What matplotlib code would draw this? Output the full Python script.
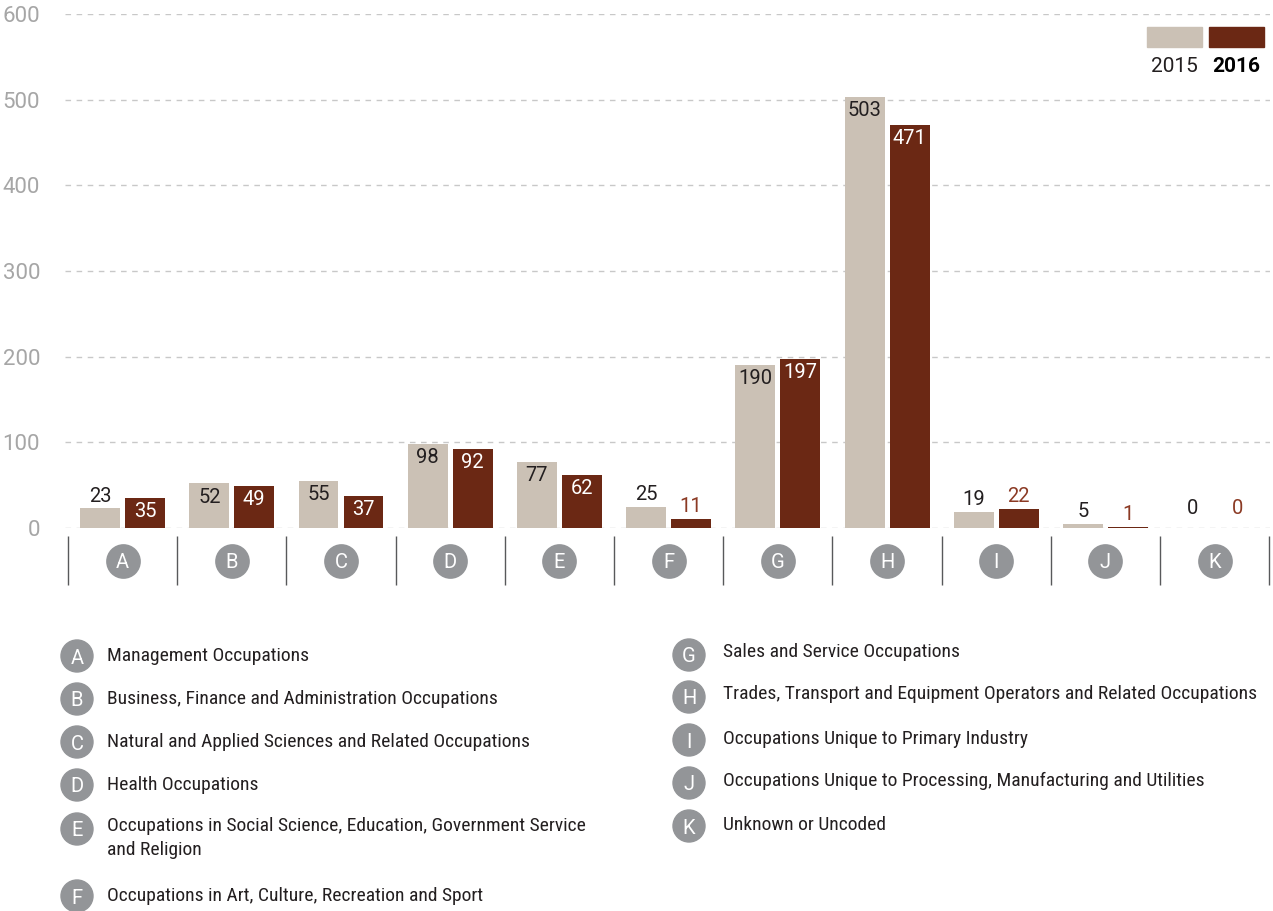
import matplotlib
matplotlib.use('Agg')
import matplotlib.pyplot as plt
from matplotlib.patches import Circle, Rectangle
from matplotlib import font_manager

# data
codes = ['A', 'B', 'C', 'D', 'E', 'F', 'G', 'H', 'I', 'J', 'K']
names = ['Management Occupations',
         'Business, Finance and Administration Occupations',
         'Natural and Applied Sciences and Related Occupations',
         'Health Occupations',
         'Occupations in Social Science, Education, Government Service\nand Religion',
         'Occupations in Art, Culture, Recreation and Sport',
         'Sales and Service Occupations',
         'Trades, Transport and Equipment Operators and Related Occupations',
         'Occupations Unique to Primary Industry',
         'Occupations Unique to Processing, Manufacturing and Utilities',
         'Unknown or Uncoded']
vals_2015 = [23, 52, 55, 98, 77, 25, 190, 503, 19, 5, 0]
vals_2016 = [35, 49, 37, 92, 62, 11, 197, 471, 22, 1, 0]
years = ['2015', '2016']

c15 = '#cbc1b5'
c16 = '#6b2814'
dark = '#231f20'
grey_circle = '#939598'

plt.rcParams['font.family'] = ['Roboto', 'DejaVu Sans']

# pick a narrow face for the key if one is installed
installed = set(f.name for f in font_manager.fontManager.ttflist)
narrow, key_size = 'Roboto', 12.2
for cand in ['Roboto Condensed', 'Liberation Sans Narrow', 'Open Sans Condensed']:
    if cand in installed:
        narrow, key_size = cand, 14
        break

W, H = 1273, 911
fig = plt.figure(figsize=(W / 100, H / 100), dpi=100)

# main axes: left 65px, right 1270px, y 0 at 528px, 600 at 14px
ax = fig.add_axes([65 / W, 1 - 528 / H, 1205 / W, 514 / H])
ax.set_ylim(0, 600)
ax.set_xlim(-0.5275, 10.507)
for s in ax.spines.values():
    s.set_visible(False)
ax.set_yticks(range(0, 601, 100))
ax.set_xticks([])
ax.tick_params(axis='y', length=0, pad=18, labelsize=16, labelcolor='#a6a6a6')
ax.yaxis.grid(True, color='#c8c8c8', linestyle=(0, (4, 4)), linewidth=1)
ax.set_axisbelow(True)

x = list(range(len(codes)))
off = 0.206
bw = 0.366
ax.bar([i - off for i in x], vals_2015, bw, color=c15, zorder=2)
ax.bar([i + off for i in x], vals_2016, bw, color=c16, zorder=2)

# value labels
for i in x:
    for v, dx, inside_col, out_col in [(vals_2015[i], -off, dark, dark),
                                       (vals_2016[i], off, 'white', '#8b3a24')]:
        if v >= 30:
            ax.annotate(str(v), (i + dx, v), xytext=(0, -3), textcoords='offset points',
                        ha='center', va='top', fontsize=14.5, color=inside_col, zorder=3)
        else:
            ax.annotate(str(v), (i + dx, v), xytext=(0, 2 if v > 0 else 7),
                        textcoords='offset points', ha='center', va='bottom',
                        fontsize=14.5, color=out_col, zorder=3)

# category markers below the axis
ypx = 100 / 85.67
ax.vlines([i - 0.5 for i in range(len(codes) + 1)], -57 * ypx, -8 * ypx,
          color='#58595b', linewidth=1, clip_on=False)
ax.plot(x, [-33 * ypx] * len(x), 'o', markersize=25, color=grey_circle,
        markeredgewidth=0, clip_on=False)
for i, c in zip(x, codes):
    ax.text(i, -33 * ypx, c, ha='center', va='center_baseline', color='white',
            fontsize=14.5, clip_on=False)

# overlay for legends in pixel coordinates
ov = fig.add_axes([0, 0, 1, 1])
ov.set_xlim(0, W)
ov.set_ylim(H, 0)
ov.axis('off')
ov.patch.set_visible(False)

ov.add_patch(Rectangle((1147, 27), 55, 20, color=c15))
ov.add_patch(Rectangle((1209, 27), 55, 20, color=c16))
ov.text(1174, 67, years[0], ha='center', va='center', fontsize=15, color=dark)
ov.text(1236, 67, years[1], ha='center', va='center', fontsize=15,
        color='black', fontweight='bold')

# bottom key
col1_y = [656, 699, 742, 785, 829, 896]
col2_y = [655, 697, 740, 783, 826]
col2_ty = [652, 694, 739, 781, 825]
for k in range(6):
    ov.add_patch(Circle((77, col1_y[k]), 16, color=grey_circle))
    ov.text(77, col1_y[k], codes[k], ha='center', va='center_baseline',
            color='white', fontsize=14.5)
    if '\n' in names[k]:
        ov.text(107, col1_y[k] - 12, names[k], ha='left', va='top', family=narrow,
                fontsize=key_size, color=dark, linespacing=1.45)
    else:
        ov.text(107, col1_y[k], names[k], ha='left', va='center', family=narrow,
                fontsize=key_size, color=dark)
for k in range(5):
    ov.add_patch(Circle((689, col2_y[k]), 16, color=grey_circle))
    ov.text(689, col2_y[k], codes[6 + k], ha='center', va='center_baseline',
            color='white', fontsize=14.5)
    ov.text(723, col2_ty[k], names[6 + k], ha='left', va='center', family=narrow,
            fontsize=key_size, color=dark)

fig.savefig('out.png', dpi=100)
